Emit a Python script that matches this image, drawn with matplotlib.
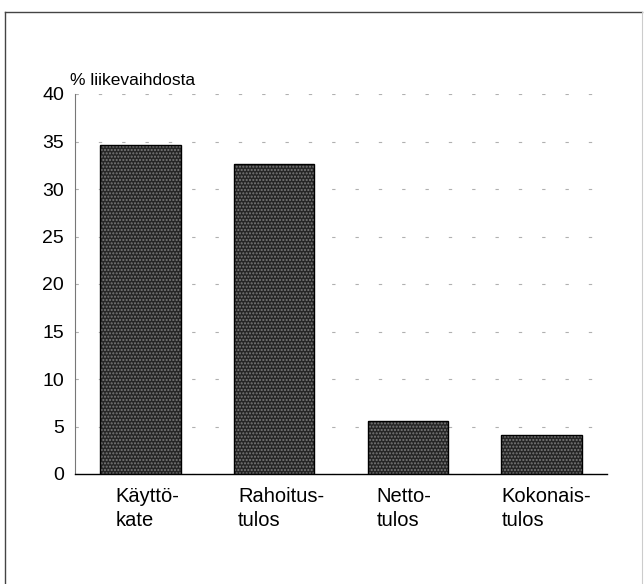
import matplotlib
matplotlib.use("Agg")
import matplotlib.pyplot as plt
from matplotlib.lines import Line2D
from matplotlib.transforms import ScaledTranslation

plt.rcParams['font.family'] = ['Liberation Sans', 'DejaVu Sans']

categories = ["Käyttö-\nkate", "Rahoitus-\ntulos", "Netto-\ntulos", "Kokonais-\ntulos"]
values = [34.6, 32.6, 5.6, 4.1]
yticks = [0, 5, 10, 15, 20, 25, 30, 35, 40]
ylabel = "% liikevaihdosta"

W, H = 644, 584
fig = plt.figure(figsize=(W / 100, H / 100), dpi=100)
ax = fig.add_axes([75 / W, 1 - 474 / H, (607 - 75) / W, (474 - 94) / H])

x = list(range(len(categories)))
ax.bar(x, values, width=0.6, color='#262626', hatch='.....', edgecolor='#7a7a7a',
       linewidth=0, zorder=2)
ax.bar(x, values, width=0.6, fill=False, edgecolor='black', linewidth=1.0, zorder=3)

ax.set_xlim(-0.49, 3.49)
ax.set_ylim(0, 40)
ax.set_yticks(yticks)
ax.set_yticklabels([str(t) for t in yticks], fontsize=14)
ax.set_xticks(x)
ax.set_xticklabels([])
# category labels, slightly shifted like the original layout
shifts_px = [7, 7, -4, 5]
base = ax.get_xaxis_transform()
for xi, lab, dx in zip(x, categories, shifts_px):
    tr = base + ScaledTranslation(dx / 100, -13 / 100, fig.dpi_scale_trans)
    ax.text(xi, 0, lab, transform=tr, ha='center', va='top', fontsize=14.5,
            multialignment='left', linespacing=1.35)
ax.tick_params(axis='both', length=0)
ax.tick_params(axis='y', pad=8)

ax.yaxis.grid(True, linestyle=(0, (3, 18)), color='#b0b0b0', linewidth=0.8, zorder=0)
ax.set_axisbelow(True)
for s in ['top', 'right']:
    ax.spines[s].set_visible(False)
ax.spines['left'].set_color('#777777')
ax.spines['left'].set_linewidth(0.8)
ax.spines['bottom'].set_color('black')
ax.spines['bottom'].set_linewidth(1.0)

fig.text(70 / W, 1 - 85 / H, ylabel, fontsize=12.5, ha='left', va='baseline')

fig.add_artist(Line2D([5 / W, 5 / W], [0, 1 - 12 / H], color='#444444', lw=1.0))
fig.add_artist(Line2D([5 / W, 642 / W], [1 - 12 / H, 1 - 12 / H], color='#444444', lw=1.0))
fig.add_artist(Line2D([642 / W, 642 / W], [0, 1 - 12 / H], color='#cccccc', lw=0.8))

fig.savefig("out.png", dpi=100)
